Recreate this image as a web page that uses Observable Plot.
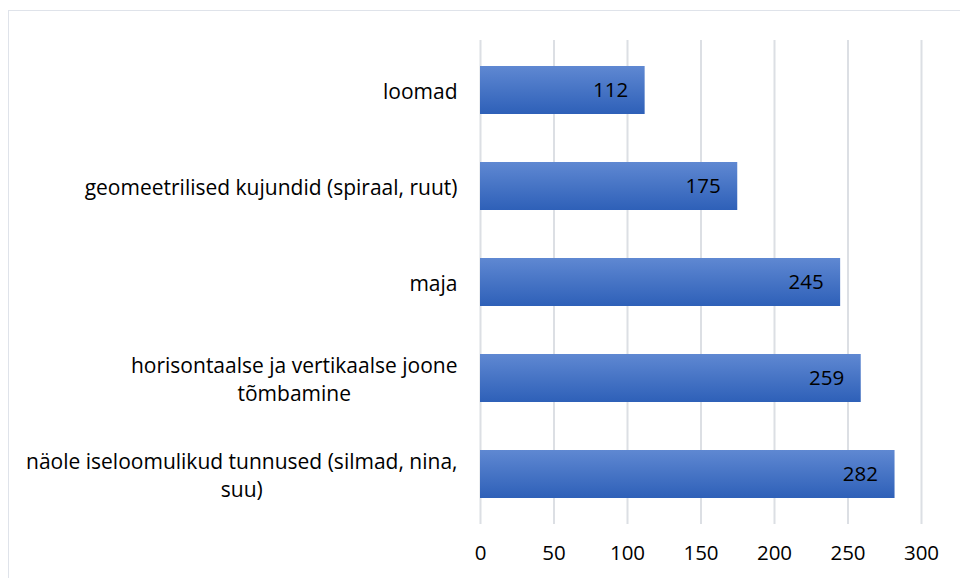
<!DOCTYPE html>
<html>
<head>
<meta charset="utf-8">
<script src="https://cdn.jsdelivr.net/npm/d3@7"></script>
<script src="https://cdn.jsdelivr.net/npm/@observablehq/plot@0.6"></script>
<style>
  html, body { margin: 0; padding: 0; background: #fff; }
  #wrap { position: relative; width: 960px; height: 578px; overflow: hidden; }
  #border { position: absolute; left: 8px; top: 10px; width: 1000px; height: 1000px; border: 1.5px solid #dfe3ea; box-sizing: border-box; }
  #chart { position: absolute; left: 0; top: 0; }
</style>
</head>
<body>
<div id="wrap"><div id="border"></div><div id="chart"></div></div>
<script>
const categories = [
  "loomad",
  "geomeetrilised kujundid (spiraal, ruut)",
  "maja",
  "horisontaalse ja vertikaalse joone\ntõmbamine",
  "näole iseloomulikud tunnused (silmad, nina,\nsuu)"
];
const values = [112, 175, 245, 259, 282];
const xTicks = [0, 50, 100, 150, 200, 250, 300];

const data = categories.map((c, i) => ({category: c, value: values[i]}));

const FONT = "'Open Sans', sans-serif";
const FS = 21;
const NFS = 20.5;
const ctx = document.createElement("canvas").getContext("2d");
ctx.font = `${FS}px 'Open Sans'`;
const maxW = s => Math.max(...s.split("\n").map(l => ctx.measureText(l).width));

const gradDefs = () => {
  const defs = d3.create("svg:defs");
  const g = defs.append("linearGradient").attr("id", "barGrad").attr("x1", 0).attr("y1", 0).attr("x2", 0).attr("y2", 1);
  g.append("stop").attr("offset", "0%").attr("stop-color", "#5f88d2");
  g.append("stop").attr("offset", "100%").attr("stop-color", "#2e60b8");
  return defs.node();
};

const labelMarks = data.map(d => Plot.text([d], {
  y: "category",
  text: "category",
  frameAnchor: "left",
  textAnchor: "middle",
  lineHeight: 1.33,
  dx: -23 - maxW(d.category) / 2,
  fill: "#000",
  fontSize: FS
}));

const chart = Plot.plot({
  width: 960,
  height: 578,
  marginLeft: 480,
  marginRight: 39,
  marginTop: 40,
  marginBottom: 54,
  style: {fontFamily: FONT, fontSize: FS + "px", color: "#000", background: "transparent"},
  x: {domain: [0, 300], ticks: xTicks, label: null},
  y: {domain: categories, paddingInner: 0.5, paddingOuter: 0.25, axis: null},
  marks: [
    gradDefs,
    Plot.gridX(xTicks, {stroke: "#dcdfe4", strokeOpacity: 1, strokeWidth: 2}),
    Plot.barX(data, {x: "value", y: "category", fill: "url(#barGrad)"}),
    Plot.text(data, {x: "value", y: "category", text: d => String(d.value), textAnchor: "end", dx: -17, fill: "#000", fontSize: NFS}),
    ...labelMarks,
    Plot.axisX(xTicks, {tickSize: 0, tickPadding: 21, label: null, fontSize: NFS, fill: "#000"})
  ]
});
document.getElementById("chart").appendChild(chart);
</script>
</body>
</html>
